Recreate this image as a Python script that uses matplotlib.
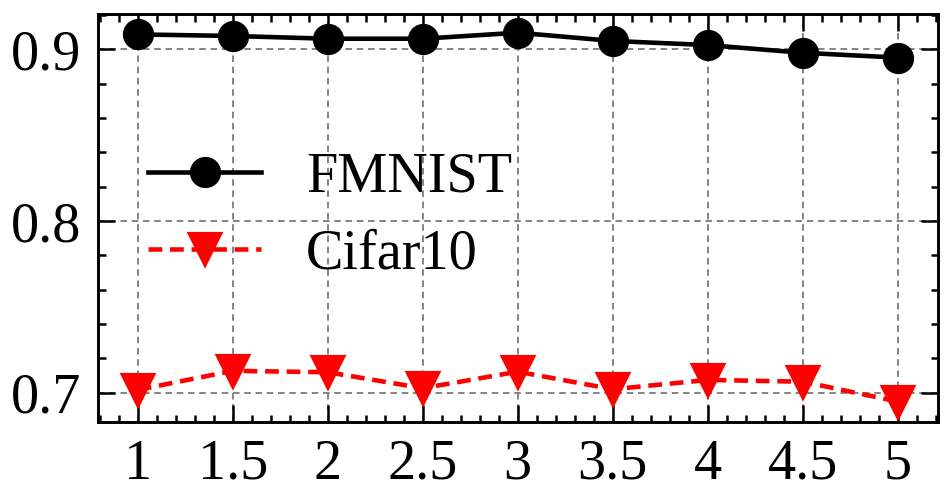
import numpy as np
import matplotlib
matplotlib.use("Agg")
import matplotlib.pyplot as plt
from matplotlib.ticker import MultipleLocator

# values
x_vals = [1, 1.5, 2, 2.5, 3, 3.5, 4, 4.5, 5]
x_labels = ["1", "1.5", "2", "2.5", "3", "3.5", "4", "4.5", "5"]
fmnist = [0.9087, 0.9078, 0.9062, 0.9062, 0.9097, 0.9049, 0.9025, 0.8980, 0.8952]
cifar10 = [0.7016, 0.7127, 0.7119, 0.7026, 0.7122, 0.7020, 0.7074, 0.7064, 0.6948]

plt.rcParams['font.family'] = ['Liberation Serif', 'DejaVu Serif']
plt.rcParams['mathtext.fontset'] = 'stix'

fig = plt.figure(figsize=(950 / 300, 500 / 300), dpi=300)
ax = fig.add_axes([0.103, 0.156, 0.884, 0.816])

ax.plot(x_vals, fmnist, color='black', linestyle='-', marker='o',
        markersize=6.5, linewidth=1.1, label='FMNIST')
ax.plot(x_vals, cifar10, color='red', linestyle=(0, (3.0, 1.7)), marker='v',
        markersize=7, linewidth=1.1, label='Cifar10')

ax.set_xlim(0.79, 5.21)
ax.set_ylim(0.6829, 0.9206)
ax.set_xticks(x_vals)
ax.set_xticklabels(x_labels)
ax.set_yticks([0.7, 0.8, 0.9])
ax.set_yticklabels(["0.7", "0.8", "0.9"])
ax.xaxis.set_minor_locator(MultipleLocator(0.1))
ax.yaxis.set_minor_locator(MultipleLocator(0.02))

ax.tick_params(which='both', direction='in', top=True, right=True,
               labelsize=13.5, width=0.6, pad=4)
ax.tick_params(which='major', length=4)
ax.tick_params(which='minor', length=1.8)
for s in ax.spines.values():
    s.set_linewidth(0.7)

ax.grid(True, which='major', linestyle=(0, (3.5, 2.5)), color='gray', linewidth=0.45)

ax.legend(loc='center left', fontsize=13.5, frameon=False, handlelength=2.0,
          bbox_to_anchor=(0.0, 0.505), borderaxespad=0.5, labelspacing=0.45)

fig.savefig('out.png', dpi=300)
